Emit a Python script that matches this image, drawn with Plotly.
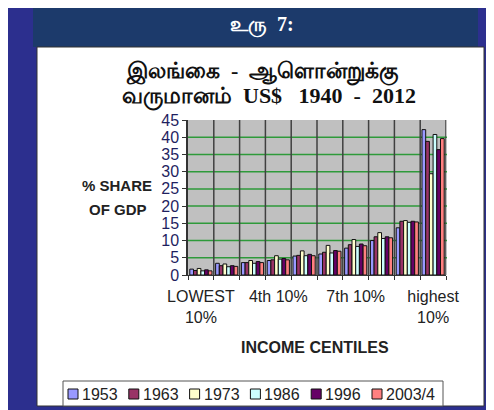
import plotly.graph_objects as go

# ---------------- data ----------------
deciles = ["1", "2", "3", "4", "5", "6", "7", "8", "9", "10"]
years = ["1953", "1963", "1973", "1986", "1996", "2003/4"]
s1953 = [1.7, 3.4, 3.6, 4.2, 5.5, 6.1, 7.8, 10.0, 13.7, 42.2]
s1963 = [1.3, 2.7, 3.6, 4.4, 5.7, 6.6, 8.8, 11.1, 15.6, 38.8]
s1973 = [1.9, 3.2, 4.2, 5.6, 7.0, 8.6, 10.3, 12.3, 15.8, 29.4]
s1986 = [1.2, 2.4, 3.4, 4.6, 5.6, 6.4, 8.3, 10.6, 15.3, 40.8]
s1996 = [1.5, 2.7, 3.9, 4.8, 6.0, 7.1, 9.0, 11.1, 15.6, 36.4]
s2003 = [1.2, 2.5, 3.6, 4.4, 5.6, 6.9, 8.5, 10.8, 15.4, 39.6]
series = [s1953, s1963, s1973, s1986, s1996, s2003]
colors = ["#9999ff", "#993366", "#ffffcc", "#ccffff", "#660066", "#ff8080"]
x_tick_idx = [0, 3, 6, 9]
x_tick_text = ["LOWEST<br>10%", "4th 10%", "7th 10%", "highest<br>10%"]
y_ticks = list(range(0, 50, 5))

# ---------------- geometry helpers (screenshot pixels; page has 8px body margin) ----------------
W, H = 494, 410
OFF = 8
L, R, T, B = 188, 446, 120, 275


def fx(px):
    return (px - L) / (R - L)


def fy(py):
    return (B - py) / (B - T)


SANS = "Arial, Liberation Sans, sans-serif"
SERIF = "Liberation Serif, Times New Roman, serif"

fig = go.Figure()
xs = list(range(len(deciles)))
for name, vals, col in zip(years, series, colors):
    fig.add_trace(go.Bar(x=xs, y=vals, name=name, marker_color=col,
                         marker_line=dict(color="#111111", width=1),
                         showlegend=False))

shapes = []
# header band
shapes.append(dict(type="rect", xref="paper", yref="paper", x0=fx(33), x1=fx(478), y0=fy(0), y1=fy(47),
                   fillcolor="#1c3a6b", line_width=0, layer="below"))
# white panel
shapes.append(dict(type="rect", xref="paper", yref="paper", x0=fx(37), x1=fx(484), y0=fy(47), y1=fy(406),
                   fillcolor="white", line=dict(color="#333333", width=1), layer="below"))
# gray plot wall
shapes.append(dict(type="rect", xref="paper", yref="paper", x0=0, x1=fx(447), y0=0, y1=1,
                   fillcolor="#c0c0c0", line_width=0, layer="below"))
# green horizontal gridlines
for v in y_ticks[1:-1]:
    shapes.append(dict(type="line", xref="paper", yref="y", x0=0, x1=fx(447), y0=v, y1=v,
                       line=dict(color="#2e9a3a", width=1.5), layer="below"))
# dark vertical separators
for k in range(len(deciles)):
    shapes.append(dict(type="line", xref="x", yref="paper", x0=k + 0.5, x1=k + 0.5, y0=0, y1=1,
                       line=dict(color="#404040", width=1.5), layer="below"))

# manual legend
shapes.append(dict(type="rect", xref="paper", yref="paper", x0=fx(63), x1=fx(443), y0=fy(381), y1=fy(406),
                   fillcolor="white", line=dict(color="#555555", width=1), layer="above"))
annotations = []
for i, (name, col) in enumerate(zip(years, colors)):
    sx = 68 + i * 60.8
    shapes.append(dict(type="rect", xref="paper", yref="paper", x0=fx(sx), x1=fx(sx + 10),
                       y0=fy(389), y1=fy(399), fillcolor=col,
                       line=dict(color="#111111", width=1), layer="above"))
    annotations.append(dict(text=name, xref="paper", yref="paper", x=fx(sx + 12), y=fy(394),
                            xanchor="left", yanchor="middle", showarrow=False,
                            font=dict(family=SANS, size=16, color="#222222")))

# titles
annotations.append(dict(text="<b>உரு  7:</b>", xref="paper", yref="paper", x=fx(262), y=fy(25),
                        xanchor="center", yanchor="middle", showarrow=False,
                        font=dict(family=SERIF, size=20, color="white")))
annotations.append(dict(text="<b>இலங்கை  -  ஆளொன்றுக்கு</b>", xref="paper", yref="paper",
                        x=fx(262), y=fy(72), xanchor="center", yanchor="middle", showarrow=False,
                        font=dict(family=SERIF, size=22, color="#111111")))
annotations.append(dict(text="<b>வருமானம்  US$   1940  -  2012</b>", xref="paper", yref="paper",
                        x=fx(269), y=fy(97), xanchor="center", yanchor="middle", showarrow=False,
                        font=dict(family=SERIF, size=22, color="#111111")))
annotations.append(dict(text="<b>% SHARE</b>", xref="paper", yref="paper", x=fx(117), y=fy(185),
                        xanchor="center", yanchor="middle", showarrow=False,
                        font=dict(family=SANS, size=15, color="#222222")))
annotations.append(dict(text="<b>OF GDP</b>", xref="paper", yref="paper", x=fx(118), y=fy(209),
                        xanchor="center", yanchor="middle", showarrow=False,
                        font=dict(family=SANS, size=15, color="#222222")))
annotations.append(dict(text="<b>INCOME CENTILES</b>", xref="paper", yref="paper", x=fx(315), y=fy(347),
                        xanchor="center", yanchor="middle", showarrow=False,
                        font=dict(family=SANS, size=16, color="#222222")))

fig.update_layout(
    width=W, height=H,
    margin=dict(l=L - OFF, r=W - (R - OFF), t=T - OFF, b=H - (B - OFF), pad=0),
    paper_bgcolor="#2c2f8e",
    plot_bgcolor="rgba(0,0,0,0)",
    barmode="group", bargap=0.14, bargroupgap=0,
    shapes=shapes, annotations=annotations,
    xaxis=dict(range=[-0.5, len(deciles) - 0.5], tickvals=x_tick_idx, ticktext=x_tick_text,
               showgrid=False, zeroline=False, showline=True, linecolor="#333333", linewidth=1,
               ticks="", ticklabelstandoff=7,
               tickfont=dict(family=SANS, size=16, color="#222222"),
               minor=dict(tick0=-0.5, dtick=1, ticks="outside", ticklen=4, tickcolor="#333333",
                          showgrid=False)),
    yaxis=dict(range=[0, 45], tickvals=y_ticks, showgrid=False, zeroline=False,
               showline=True, linecolor="#333333", linewidth=1.5, ticks="outside", ticklen=4,
               tickcolor="#333333",
               tickfont=dict(family=SANS, size=16, color="#1f1f5f")),
)

fig.write_html("out.html")
